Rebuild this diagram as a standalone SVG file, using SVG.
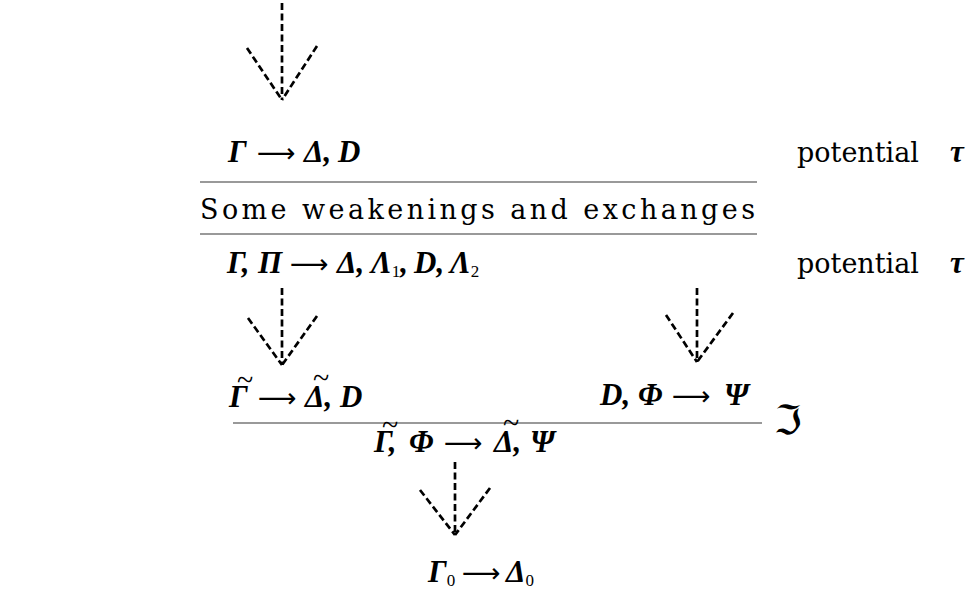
<svg xmlns="http://www.w3.org/2000/svg" width="976" height="603" viewBox="0 0 976 603">
<defs>
<style>
.f{font-family:"Liberation Serif","DejaVu Serif",serif;font-weight:bold;font-style:italic;font-size:31px;fill:#000}
.ar{font-family:"DejaVu Sans",sans-serif;font-weight:normal;font-style:normal;font-size:27px}
.r{font-family:"DejaVu Serif","Liberation Serif",serif;font-size:27px;fill:#000}
.sub{font-size:17px;font-style:normal;font-weight:normal}
.til{font-family:"Liberation Serif",serif;font-size:30px;font-weight:normal;font-style:normal}
.rule{stroke:#777;stroke-width:1.5;fill:none}
.dash{stroke:#000;stroke-width:2.7;fill:none;stroke-dasharray:7 3.5}
.fr{font-family:"DejaVu Serif","DejaVu Sans",serif;font-size:40px;fill:#000}
</style>
</defs>
<rect width="976" height="603" fill="#fff"/>
<g id="connectors">
<path class="dash" d="M282 3V100M247 48L282 100M317 46L282 100"/>
<path class="dash" d="M282 288V365M248 318L282 365M317 316L282 365"/>
<path class="dash" d="M697 288V362M666 315L697 362M733 313L697 362"/>
<path class="dash" d="M455 462V535M420 490L455 535M490 488L455 535"/>
</g>
<g id="n1"><text class="f" y="162"><tspan x="228">Γ</tspan><tspan class="ar" x="257">⟶</tspan><tspan x="304">Δ,</tspan><tspan x="338">D</tspan></text></g>
<g id="pot1"><text class="r" x="797" y="162">potential</text><text class="f" x="950" y="162" font-size="28">τ</text></g>
<g id="rule1"><line class="rule" x1="200" y1="182" x2="757" y2="182"/></g>
<g id="weak"><text class="r" x="200" y="219" font-size="28" textLength="555" lengthAdjust="spacing">Some weakenings and exchanges</text></g>
<g id="rule2"><line class="rule" x1="200" y1="234" x2="757" y2="234"/></g>
<g id="n2"><text class="f" y="273"><tspan x="227">Γ,</tspan><tspan x="258">Π</tspan><tspan class="ar" x="290">⟶</tspan><tspan x="337">Δ,</tspan><tspan x="371">Λ</tspan><tspan class="sub" dy="4">1</tspan><tspan dy="-4">,</tspan><tspan x="414">D,</tspan><tspan x="450">Λ</tspan><tspan class="sub" dy="4">2</tspan></text></g>
<g id="pot2"><text class="r" x="797" y="273">potential</text><text class="f" x="950" y="273" font-size="28">τ</text></g>
<g id="n3"><text class="f" y="407"><tspan x="229">Γ</tspan><tspan class="ar" x="258">⟶</tspan><tspan x="305">Δ,</tspan><tspan x="340">D</tspan><tspan class="til" x="237" y="390">~</tspan><tspan class="til" x="313" y="388">~</tspan></text></g>
<g id="n4"><text class="f" y="405"><tspan x="600">D,</tspan><tspan x="638">Φ</tspan><tspan class="ar" x="672">⟶</tspan><tspan x="724">Ψ</tspan></text></g>
<g id="rule3"><line class="rule" x1="233" y1="423" x2="762" y2="423"/></g>
<g id="label"><text class="fr" x="774" y="434">ℑ</text></g>
<g id="n5"><text class="f" y="452"><tspan x="374">Γ,</tspan><tspan x="409">Φ</tspan><tspan class="ar" x="444">⟶</tspan><tspan x="494">Δ,</tspan><tspan x="530">Ψ</tspan><tspan class="til" x="382" y="435">~</tspan><tspan class="til" x="503" y="433">~</tspan></text></g>
<g id="n6"><text class="f" y="582"><tspan x="428">Γ</tspan><tspan class="sub" dy="4">0</tspan><tspan class="ar" x="462" dy="-4">⟶</tspan><tspan x="506">Δ</tspan><tspan class="sub" dy="4">0</tspan></text></g>
</svg>
